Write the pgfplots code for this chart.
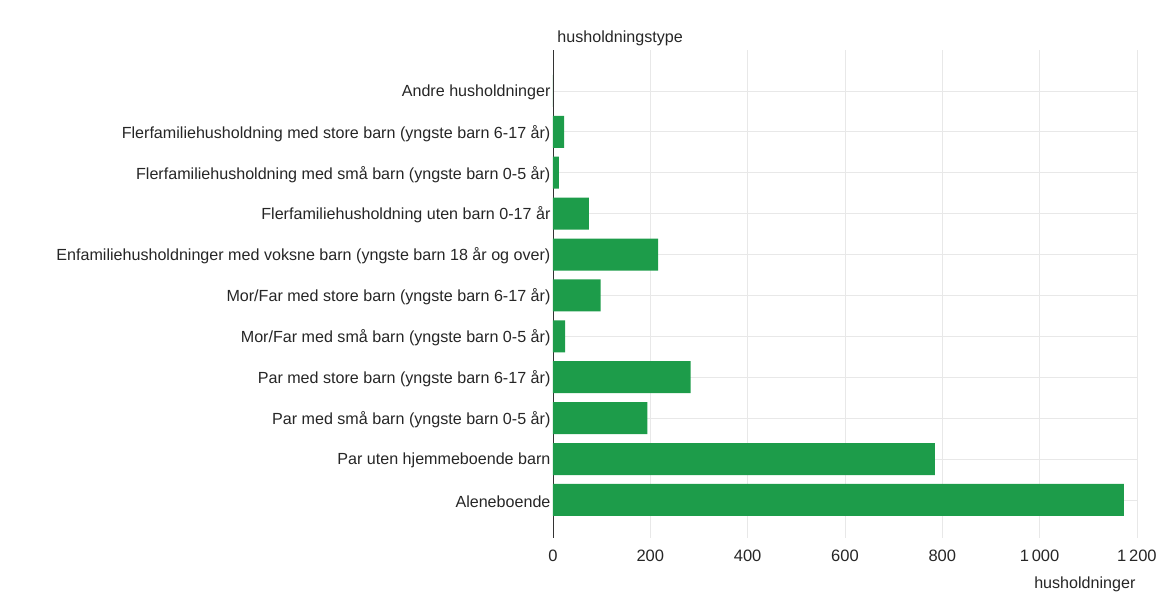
\documentclass[border=0pt]{standalone}
\usepackage{pgfplots}
\pgfplotsset{compat=1.18}
\usepackage{pgfplotstable}
\usepackage{fontspec}
\setmainfont{Liberation Sans}
\definecolor{barGreen}{RGB}{29,156,74}
\definecolor{gridGray}{RGB}{232,232,232}
\definecolor{txt}{RGB}{38,38,38}

% index 0 = Aleneboende (bottom) ... 10 = Andre husholdninger (top)
\pgfplotstableread{
idx value
0 1173
1 785
2 194
3 283
4 25
5 98
6 216
7 74
8 12
9 23
10 0
}\hushold

\begin{document}
\begin{tikzpicture}
\begin{axis}[
  name=ax,
  scale only axis,
  width=584pt, height=488pt,
  xbar, bar width=32pt,
  xmin=0, xmax=1200,
  ymin=-0.93, ymax=11,
  axis x line*=bottom, axis y line*=left,
  x axis line style={draw=none},
  y axis line style={draw=black!80, line width=0.8pt},
  major tick length=0pt,
  xtick={0,200,...,1200},
  xticklabels={0,200,400,600,800,1\,000,1\,200},
  ytick={0,...,10},
  yticklabels={
    Aleneboende,
    Par uten hjemmeboende barn,
    Par med små barn (yngste barn 0-5 år),
    Par med store barn (yngste barn 6-17 år),
    Mor/Far med små barn (yngste barn 0-5 år),
    Mor/Far med store barn (yngste barn 6-17 år),
    Enfamiliehusholdninger med voksne barn (yngste barn 18 år og over),
    Flerfamiliehusholdning uten barn 0-17 år,
    Flerfamiliehusholdning med små barn (yngste barn 0-5 år),
    Flerfamiliehusholdning med store barn (yngste barn 6-17 år),
    Andre husholdninger},
  xmajorgrids, ymajorgrids,
  grid style={gridGray, line width=0.7pt},
  tick label style={font=\fontsize{16.1}{19}\selectfont, text=txt},
  xticklabel style={yshift=-8pt, font=\fontsize{16.5}{19}\selectfont},
  yticklabel style={xshift=1pt, yshift=-1.5pt},
  /pgf/number format/assume math mode=true,
  clip=false,
]
\addplot[fill=barGreen, draw=none] table[x=value, y=idx] {\hushold};
\node[anchor=base west, font=\fontsize{16.1}{19}\selectfont, text=txt]
  at (rel axis cs:0,1) [xshift=1pt, yshift=7pt] {husholdningstype};
\node[anchor=base east, font=\fontsize{16.1}{19}\selectfont, text=txt]
  at (rel axis cs:1,0) [xshift=2pt, yshift=-51pt] {husholdninger};
\end{axis}
\path (ax.south west) ++(-553pt,-55pt) coordinate (bbsw);
\path (ax.north east) ++(23pt,50pt) coordinate (bbne);
\path (bbsw) rectangle (bbne);
\end{tikzpicture}
\end{document}
